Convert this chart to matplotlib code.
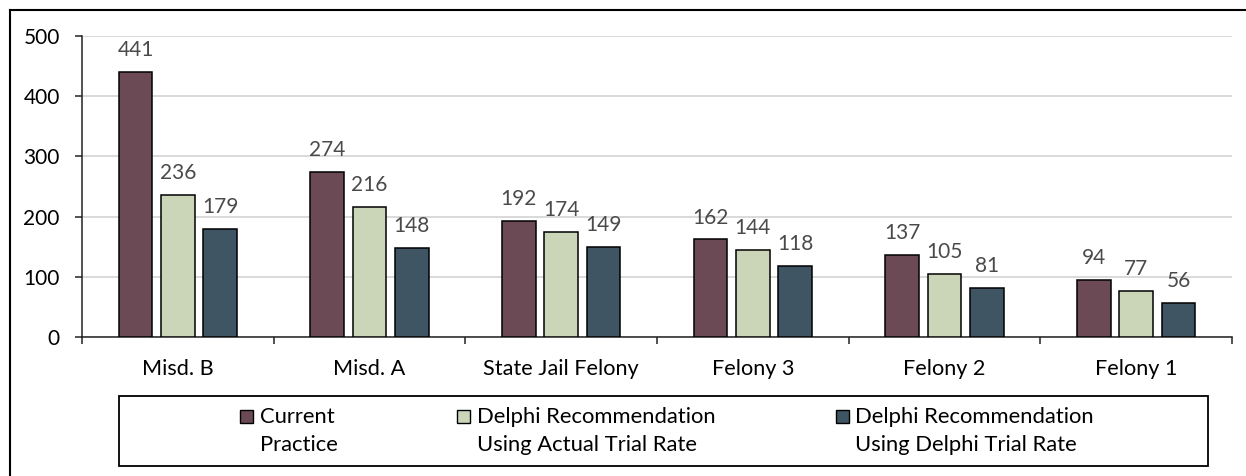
import matplotlib
matplotlib.use("Agg")
import matplotlib.pyplot as plt
import numpy as np
from matplotlib.patches import Rectangle
from matplotlib.lines import Line2D

categories = ["Misd. B", "Misd. A", "State Jail Felony", "Felony 3", "Felony 2", "Felony 1"]
current_practice = [441, 274, 192, 162, 137, 94]
delphi_actual = [236, 216, 174, 144, 105, 77]
delphi_delphi = [179, 148, 149, 118, 81, 56]
series_names = ["Current\nPractice",
                "Delphi Recommendation\nUsing Actual Trial Rate",
                "Delphi Recommendation\nUsing Delphi Trial Rate"]
colors = ["#6B4A56", "#CBD6B9", "#3F5563"]
yticks = [0, 100, 200, 300, 400, 500]

plt.rcParams['font.family'] = ['Lato', 'DejaVu Sans']
W, H = 1246, 476
fig = plt.figure(figsize=(W / 100, H / 100), dpi=100)

def fx(px):
    return px / W

def fy(py):
    return 1 - py / H

ax = fig.add_axes([fx(82), fy(337), fx(1232) - fx(82), fy(36) - fy(337)])

x = np.arange(len(categories))
bw = 0.177
step = 0.221
series = [current_practice, delphi_actual, delphi_delphi]
for i, vals in enumerate(series):
    pos = x + (i - 1) * step
    ax.bar(pos, vals, width=bw, color=colors[i], edgecolor="black",
           linewidth=1.1, zorder=3)
    for xp, v in zip(pos, vals):
        ax.annotate(str(v), (xp, v), xytext=(0, 11.5), textcoords="offset points",
                    ha="center", va="baseline", fontsize=15, color="#4A4A4A")

ax.set_xlim(-0.5, len(categories) - 0.5)
ax.set_ylim(0, 500)
ax.set_yticks(yticks)
ax.set_yticklabels([str(t) for t in yticks])
ax.yaxis.grid(True, color="#D9D9D9", linewidth=1.4, zorder=0)
ax.set_axisbelow(True)

ax.set_xticks(x)
ax.set_xticklabels(categories)
ax.set_xticks(np.arange(-0.5, len(categories)), minor=True)
ax.tick_params(axis="x", which="major", length=0, pad=16, labelsize=15.6, colors="black")
ax.tick_params(axis="x", which="minor", length=5, width=1.1, direction="out", color="#222222")
ax.tick_params(axis="y", which="major", length=5, width=1.1, direction="out",
               pad=11, labelsize=15, color="#222222")

for s in ["top", "right"]:
    ax.spines[s].set_visible(False)
for s in ["left", "bottom"]:
    ax.spines[s].set_color("#222222")
    ax.spines[s].set_linewidth(1.1)

# outer frame (top and left edges)
fig.add_artist(Line2D([fx(9.5), 1.0], [fy(10), fy(10)], color="black", linewidth=1.5))
fig.add_artist(Line2D([fx(9.5), fx(9.5)], [fy(10), 0.0], color="black", linewidth=1.5))

# legend box
fig.add_artist(Rectangle((fx(119), fy(466)), fx(1208) - fx(119), fy(396) - fy(466),
                         facecolor="white", edgecolor="black", linewidth=1.3))
sq_x = [240, 457, 836]
txt_x = [260, 477, 855]
for i in range(3):
    fig.add_artist(Rectangle((fx(sq_x[i]), fy(423)), fx(13), 13 / H,
                             facecolor=colors[i], edgecolor="black", linewidth=1.0))
    line1, line2 = series_names[i].split("\n")
    fig.text(fx(txt_x[i]), fy(417), line1, ha="left", va="center", fontsize=15.8, color="black")
    fig.text(fx(txt_x[i]), fy(445), line2, ha="left", va="center", fontsize=15.8, color="black")

fig.savefig("out.png", dpi=100)
